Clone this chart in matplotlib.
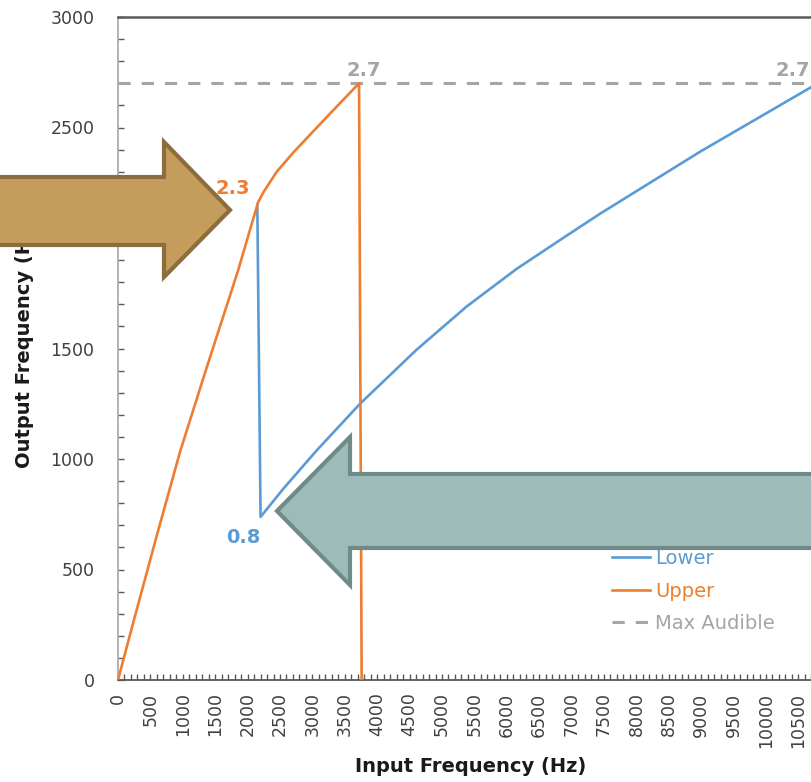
import matplotlib
matplotlib.use("Agg")
import matplotlib.pyplot as plt
from matplotlib.patches import Polygon
from matplotlib.ticker import MultipleLocator

plt.rcParams['font.family'] = ['DejaVu Sans']

# Output frequency curves (Hz) against input frequency (Hz)
upper_x = [0, 240, 600, 960, 1370, 1850, 2160, 2240, 2450, 2700, 3230, 3720, 3760]
upper_y = [0, 265, 655, 1035, 1415, 1850, 2160, 2205, 2300, 2385, 2550, 2700, 0]

lower_x = [2150, 2200, 2550, 3070, 3735, 4610, 5380, 6150, 6920, 7440, 8980, 10700]
lower_y = [2150, 738, 865, 1040, 1250, 1495, 1690, 1860, 2010, 2110, 2390, 2683]

max_x = [0, 11000]
max_y = [2700, 2700]

x_ticks = list(range(0, 10501, 500))
y_ticks = list(range(0, 3001, 500))

BLUE = '#5b9bd5'
ORANGE = '#ed7d31'
GRAY = '#a5a5a5'

W, H = 811, 782
fig = plt.figure(figsize=(W / 100, H / 100), dpi=100)
ax = fig.add_axes([118 / W, (H - 680) / H, 712.8 / W, 663 / H])

ax.plot(lower_x, lower_y, color=BLUE, lw=1.9, label='Lower', zorder=3)
ax.plot(upper_x, upper_y, color=ORANGE, lw=1.9, label='Upper', zorder=3)
ax.plot(max_x, max_y, color=GRAY, lw=2.2, dashes=(4, 3.6), dash_capstyle='butt',
        label='Max Audible', zorder=2)

ax.set_xlim(0, 11000)
ax.set_ylim(0, 3000)
ax.set_xticks(x_ticks)
ax.set_xticklabels([str(v) for v in x_ticks], rotation=90)
ax.set_yticks(y_ticks)
ax.xaxis.set_minor_locator(MultipleLocator(100))
ax.yaxis.set_minor_locator(MultipleLocator(100))
ax.tick_params(axis='both', which='both', direction='in', length=4.5, width=1.0,
               color='#595959', labelcolor='#404040', labelsize=12.5)
ax.tick_params(axis='y', which='both', pad=17)
ax.tick_params(axis='x', which='both', pad=9)

for side in ('top', 'bottom', 'right'):
    ax.spines[side].set_color('#595959')
ax.spines['top'].set_linewidth(1.8)
ax.spines['bottom'].set_linewidth(1.3)
ax.spines['left'].set_color('#a6a6a6')
ax.spines['left'].set_linewidth(1.2)

ax.set_xlabel('Input Frequency (Hz)', fontsize=14, fontweight='bold', color='#1a1a1a')
ax.set_ylabel('Output Frequency (Hz)', fontsize=14, fontweight='bold', color='#1a1a1a')
ax.xaxis.set_label_coords(471 / W, 1 - 757 / H, transform=fig.transFigure)
ax.yaxis.set_label_coords(34 / W, 1 - 343 / H, transform=fig.transFigure)

# Value callouts
lab = dict(fontsize=14, fontweight='bold', ha='center', va='center', zorder=4)
ax.text(1775, 2226, '2.3', color=ORANGE, **lab)
ax.text(1929, 647, '0.8', color=BLUE, **lab)
ax.text(3796, 2760, '2.7', color=GRAY, **lab)
ax.text(10417, 2760, '2.7', color=GRAY, **lab)

leg = ax.legend(loc='upper left', bbox_to_anchor=(612 / W, 1 - 549 / H),
                bbox_transform=fig.transFigure, frameon=False, fontsize=14,
                handlelength=1.95, handletextpad=0.25, labelspacing=0.7,
                borderpad=0, borderaxespad=0)
for txt, c in zip(leg.get_texts(), [BLUE, ORANGE, GRAY]):
    txt.set_color(c)


def px(points):
    return [(x / W, 1 - y / H) for x, y in points]


# Pointer arrows drawn over the plot
brown = Polygon(px([(-10, 177), (164, 177), (164, 142), (230, 210), (164, 277),
                    (164, 245), (-10, 245)]),
                closed=True, transform=fig.transFigure, facecolor='#c49c5c',
                edgecolor='#8b6d3e', lw=3, joinstyle='miter', zorder=10)
teal = Polygon(px([(830, 474), (350, 474), (350, 437), (277, 511), (350, 585),
                   (350, 548), (830, 548)]),
               closed=True, transform=fig.transFigure, facecolor='#9dbcb9',
               edgecolor='#6f8a87', lw=3, joinstyle='miter', zorder=10)
fig.patches.extend([brown, teal])

fig.savefig('out.png', dpi=100)
